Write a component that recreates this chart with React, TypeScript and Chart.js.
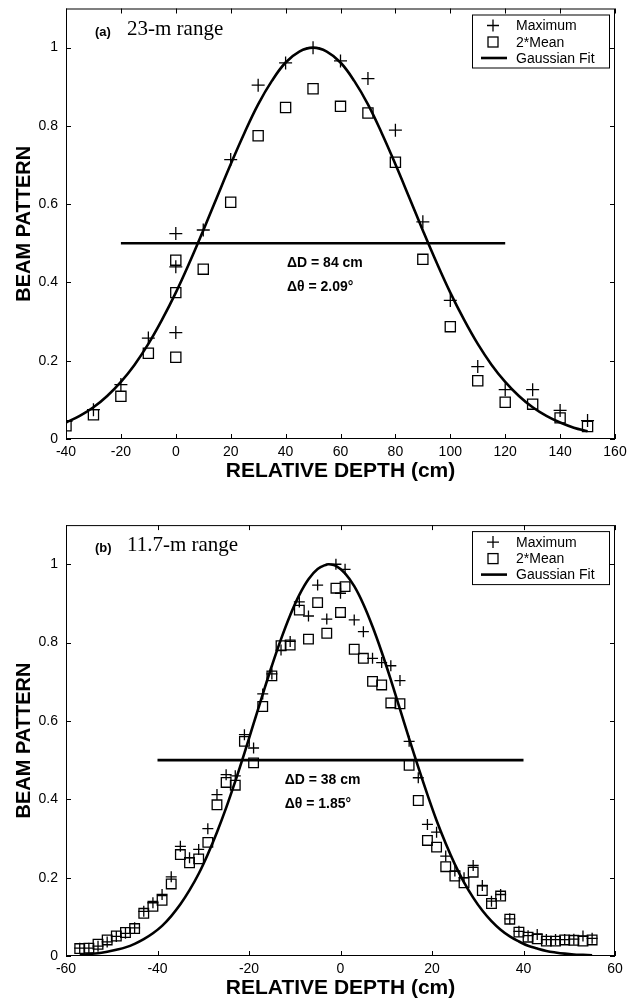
import React, { useEffect, useRef } from "react";
import { Chart, registerables } from "chart.js";

Chart.register(...registerables);

const SANS = "'Liberation Sans', Arial, Helvetica, sans-serif";
const SERIF = "'Liberation Serif', 'Times New Roman', serif";

// ---------- shared ----------
const patternTicks = [0, 0.2, 0.4, 0.6, 0.8, 1];
const seriesLabels = ["Maximum", "2*Mean", "Gaussian Fit"];

// ---------- panel (a): 23-m range ----------
const depthTicksA = [-40, -20, 0, 20, 40, 60, 80, 100, 120, 140, 160];
const maxDepthA = [-40, -30, -20, -10, 0, 0, 0, 10, 20, 30, 40, 50, 60, 70, 80, 90, 100, 110, 120, 130, 140, 150];
const maxValuesA = [0.045, 0.075, 0.139, 0.258, 0.525, 0.44, 0.272, 0.534, 0.714, 0.904, 0.961, 1.0, 0.966, 0.921, 0.789, 0.555, 0.354, 0.185, 0.126, 0.126, 0.073, 0.047];
const meanDepthA = [-40, -30, -20, -10, 0, 0, 0, 10, 20, 30, 40, 50, 60, 70, 80, 90, 100, 110, 120, 130, 140, 150];
const meanValuesA = [0.034, 0.062, 0.109, 0.219, 0.457, 0.374, 0.209, 0.434, 0.605, 0.775, 0.847, 0.895, 0.85, 0.833, 0.707, 0.459, 0.287, 0.149, 0.094, 0.089, 0.054, 0.032];
const fitDepthA = [-40, -35, -30, -25, -20, -15, -10, -5, 0, 5, 10, 15, 20, 25, 30, 35, 40, 45, 50, 55, 60, 65, 70, 75, 80, 85, 90, 95, 100, 105, 110, 115, 120, 125, 130, 135, 140, 145, 150];
const fitValuesA = [0.042, 0.059, 0.081, 0.11, 0.146, 0.19, 0.243, 0.305, 0.374, 0.451, 0.533, 0.618, 0.702, 0.782, 0.855, 0.915, 0.962, 0.99, 1.0, 0.99, 0.962, 0.915, 0.855, 0.782, 0.702, 0.618, 0.533, 0.451, 0.374, 0.305, 0.243, 0.19, 0.146, 0.11, 0.081, 0.059, 0.042, 0.029, 0.02];
const halfDepthA = [-20, 120];
const halfValuesA = [0.5, 0.5];
const notesA = ["\u0394D = 84 cm", "\u0394\u03b8 = 2.09\u00b0"];
const notePosA = { x: 40.5, y: [0.449, 0.389] };

// ---------- panel (b): 11.7-m range ----------
const depthTicksB = [-60, -40, -20, 0, 20, 40, 60];
const maxDepthB = [-57, -55, -53, -51, -49, -47, -45, -43, -41, -39, -37, -35, -33, -31, -29, -27, -25, -23, -21, -19, -17, -15, -13, -11, -9, -7, -5, -3, -1, 0, 1, 3, 5, 7, 9, 11, 13, 15, 17, 19, 21, 23, 25, 27, 29, 31, 33, 35, 37, 39, 41, 43, 45, 47, 49, 51, 53, 55];
const maxValuesB = [0.02, 0.02, 0.025, 0.036, 0.05, 0.058, 0.072, 0.114, 0.136, 0.157, 0.202, 0.28, 0.251, 0.272, 0.325, 0.412, 0.463, 0.46, 0.565, 0.531, 0.669, 0.72, 0.781, 0.803, 0.904, 0.868, 0.947, 0.86, 1.0, 0.926, 0.987, 0.858, 0.828, 0.76, 0.749, 0.741, 0.703, 0.548, 0.455, 0.336, 0.316, 0.255, 0.217, 0.2, 0.231, 0.18, 0.14, 0.157, 0.095, 0.063, 0.052, 0.055, 0.042, 0.042, 0.042, 0.043, 0.051, 0.045];
const meanDepthB = [-57, -55, -53, -51, -49, -47, -45, -43, -41, -39, -37, -35, -33, -31, -29, -27, -25, -23, -21, -19, -17, -15, -13, -11, -9, -7, -5, -3, -1, 0, 1, 3, 5, 7, 9, 11, 13, 15, 17, 19, 21, 23, 25, 27, 29, 31, 33, 35, 37, 39, 41, 43, 45, 47, 49, 51, 53, 55];
const meanValuesB = [0.019, 0.02, 0.03, 0.041, 0.051, 0.06, 0.07, 0.109, 0.127, 0.142, 0.184, 0.259, 0.238, 0.248, 0.29, 0.386, 0.443, 0.436, 0.548, 0.493, 0.637, 0.715, 0.792, 0.794, 0.883, 0.809, 0.902, 0.824, 0.939, 0.877, 0.943, 0.783, 0.76, 0.701, 0.692, 0.646, 0.644, 0.487, 0.397, 0.295, 0.278, 0.228, 0.204, 0.187, 0.214, 0.167, 0.134, 0.153, 0.094, 0.061, 0.048, 0.044, 0.038, 0.038, 0.041, 0.04, 0.038, 0.041];
const fitDepthB = [-57, -55, -53, -51, -49, -47, -45, -43, -41, -39, -37, -35, -33, -31, -29, -27, -25, -23, -21, -19, -17, -15, -13, -11, -9, -7, -5, -3, -2.5, -1, 1, 3, 5, 7, 9, 11, 13, 15, 17, 19, 21, 23, 25, 27, 29, 31, 33, 35, 37, 39, 41, 43, 45, 47, 49, 51, 53, 55];
const fitValuesB = [0.003, 0.005, 0.007, 0.011, 0.016, 0.022, 0.031, 0.043, 0.058, 0.077, 0.102, 0.132, 0.168, 0.21, 0.26, 0.316, 0.378, 0.446, 0.518, 0.593, 0.668, 0.741, 0.809, 0.87, 0.922, 0.962, 0.988, 0.9995, 1.0, 0.996, 0.977, 0.944, 0.898, 0.841, 0.776, 0.705, 0.63, 0.555, 0.482, 0.412, 0.346, 0.287, 0.234, 0.188, 0.149, 0.116, 0.089, 0.067, 0.05, 0.037, 0.026, 0.019, 0.013, 0.009, 0.006, 0.004, 0.003, 0.002];
const halfDepthB = [-40, 40];
const halfValuesB = [0.5, 0.5];
const notesB = ["\u0394D = 38 cm", "\u0394\u03b8 = 1.85\u00b0"];
const notePosB = { x: -12.2, y: [0.448, 0.387] };

type PanelDef = {
  tag: string;
  title: string;
  xMin: number;
  xMax: number;
  xTicks: number[];
  maxD: number[];
  maxV: number[];
  meanD: number[];
  meanV: number[];
  fitD: number[];
  fitV: number[];
  halfD: number[];
  halfV: number[];
  notes: string[];
  notePos: { x: number; y: number[] };
  crossR: number;
  rectR: number;
};

const panelA: PanelDef = {
  tag: "(a)", title: "23-m range", xMin: -40, xMax: 160, xTicks: depthTicksA,
  maxD: maxDepthA, maxV: maxValuesA, meanD: meanDepthA, meanV: meanValuesA,
  fitD: fitDepthA, fitV: fitValuesA, halfD: halfDepthA, halfV: halfValuesA,
  notes: notesA, notePos: notePosA, crossR: 6.5, rectR: 7.2,
};
const panelB: PanelDef = {
  tag: "(b)", title: "11.7-m range", xMin: -60, xMax: 60, xTicks: depthTicksB,
  maxD: maxDepthB, maxV: maxValuesB, meanD: meanDepthB, meanV: meanValuesB,
  fitD: fitDepthB, fitV: fitValuesB, halfD: halfDepthB, halfV: halfValuesB,
  notes: notesB, notePos: notePosB, crossR: 5.5, rectR: 6.8,
};

const zip = (xs: number[], ys: number[]) => xs.map((x, i) => ({ x, y: ys[i] }));

function framePlugin(p: PanelDef) {
  return {
    id: "matlabFrame",
    afterDraw(chart: any) {
      const { ctx, chartArea: a, scales } = chart;
      const xs = scales.x;
      const ys = scales.y;
      ctx.save();
      ctx.strokeStyle = "#000";
      ctx.fillStyle = "#000";
      ctx.lineWidth = 1;
      // box
      ctx.strokeRect(a.left + 0.5, a.top + 0.5, a.right - a.left - 1, a.bottom - a.top - 1);
      // inward ticks
      const tl = 5;
      ctx.beginPath();
      p.xTicks.forEach((v) => {
        const px = Math.round(xs.getPixelForValue(v)) + 0.5;
        ctx.moveTo(px, a.bottom);
        ctx.lineTo(px, a.bottom - tl);
        ctx.moveTo(px, a.top);
        ctx.lineTo(px, a.top + tl);
      });
      patternTicks.forEach((v) => {
        const py = Math.round(ys.getPixelForValue(v)) + 0.5;
        ctx.moveTo(a.left, py);
        ctx.lineTo(a.left + tl, py);
        ctx.moveTo(a.right, py);
        ctx.lineTo(a.right - tl, py);
      });
      ctx.stroke();

      // panel tag and title
      ctx.textBaseline = "alphabetic";
      ctx.textAlign = "left";
      ctx.font = `bold 13px ${SANS}`;
      ctx.fillText(p.tag, a.left + 29, a.top + 27);
      ctx.font = `21px ${SERIF}`;
      ctx.fillText(p.title, a.left + 61, a.top + 26);

      // annotations
      ctx.font = `bold 14px ${SANS}`;
      ctx.textBaseline = "middle";
      p.notes.forEach((t, i) => {
        ctx.fillText(t, xs.getPixelForValue(p.notePos.x), ys.getPixelForValue(p.notePos.y[i]));
      });

      // legend box
      const bx = a.right - 143;
      const by = a.top + 6;
      const bw = 137;
      const bh = 53;
      ctx.fillStyle = "#fff";
      ctx.fillRect(bx, by, bw, bh);
      ctx.strokeRect(bx + 0.5, by + 0.5, bw, bh);
      ctx.fillStyle = "#000";
      const rows = [by + 11, by + 27.5, by + 43.5];
      const sx = bx + 21;
      ctx.lineWidth = 1.3;
      // plus
      ctx.beginPath();
      ctx.moveTo(sx - 6, rows[0]);
      ctx.lineTo(sx + 6, rows[0]);
      ctx.moveTo(sx, rows[0] - 6);
      ctx.lineTo(sx, rows[0] + 6);
      ctx.stroke();
      // square
      ctx.strokeRect(sx - 5, rows[1] - 5, 10, 10);
      // line
      ctx.lineWidth = 2.6;
      ctx.beginPath();
      ctx.moveTo(bx + 9, rows[2]);
      ctx.lineTo(bx + 35, rows[2]);
      ctx.stroke();
      ctx.font = `14px ${SANS}`;
      ctx.textBaseline = "middle";
      seriesLabels.forEach((t, i) => ctx.fillText(t, bx + 44, rows[i] + 1));
      ctx.restore();
    },
  };
}

function buildConfig(p: PanelDef): any {
  const tickFont = { family: SANS, size: 14 };
  return {
    type: "scatter",
    data: {
      datasets: [
        {
          label: seriesLabels[0],
          data: zip(p.maxD, p.maxV),
          pointStyle: "cross",
          pointRadius: p.crossR,
          borderColor: "#000",
          backgroundColor: "#000",
          borderWidth: 1.3,
          showLine: false,
        },
        {
          label: seriesLabels[1],
          data: zip(p.meanD, p.meanV),
          pointStyle: "rect",
          pointRadius: p.rectR,
          borderColor: "#000",
          backgroundColor: "rgba(0,0,0,0)",
          borderWidth: 1.3,
          showLine: false,
        },
        {
          label: seriesLabels[2],
          data: zip(p.fitD, p.fitV),
          showLine: true,
          borderColor: "#000",
          backgroundColor: "#000",
          borderWidth: 2.6,
          pointRadius: 0,
          tension: 0.4,
          fill: false,
        },
        {
          label: "Half power",
          data: zip(p.halfD, p.halfV),
          showLine: true,
          borderColor: "#000",
          backgroundColor: "#000",
          borderWidth: 2.6,
          pointRadius: 0,
          fill: false,
        },
      ],
    },
    options: {
      animation: false,
      responsive: false,
      devicePixelRatio: 1,
      layout: { padding: { top: 8, right: 21, left: 0, bottom: 0 } },
      plugins: { legend: { display: false }, tooltip: { enabled: false } },
      scales: {
        x: {
          type: "linear",
          min: p.xMin,
          max: p.xMax,
          afterBuildTicks: (s: any) => {
            s.ticks = p.xTicks.map((v) => ({ value: v }));
          },
          afterFit: (s: any) => {
            s.height = 51;
          },
          grid: { display: false, drawTicks: false },
          border: { display: false },
          ticks: {
            color: "#000",
            font: tickFont,
            padding: 5,
            maxRotation: 0,
            autoSkip: false,
            callback: (v: any) => String(v),
          },
          title: {
            display: true,
            text: "RELATIVE DEPTH (cm)",
            color: "#000",
            font: { family: SANS, size: 21, weight: "bold" },
            padding: { top: 0, bottom: 6 },
          },
        },
        y: {
          type: "linear",
          min: 0,
          max: 1.1,
          afterBuildTicks: (s: any) => {
            s.ticks = patternTicks.map((v) => ({ value: v }));
          },
          afterFit: (s: any) => {
            s.width = 66;
            s.paddingTop = 0;
            s.paddingBottom = 0;
          },
          grid: { display: false, drawTicks: false },
          border: { display: false },
          ticks: {
            color: "#000",
            font: tickFont,
            padding: 8,
            autoSkip: false,
            callback: (v: any) => String(Math.round(Number(v) * 10) / 10),
          },
          title: {
            display: true,
            text: "BEAM PATTERN",
            color: "#000",
            font: { family: SANS, size: 20, weight: "bold" },
            padding: { top: 12, bottom: 0 },
          },
        },
      },
    },
    plugins: [framePlugin(p)],
  };
}

function PanelChart({ panel, top }: { panel: PanelDef; top: number }) {
  const ref = useRef<HTMLCanvasElement | null>(null);
  useEffect(() => {
    if (!ref.current) return;
    const chart = new Chart(ref.current, buildConfig(panel));
    return () => chart.destroy();
  }, [panel]);
  return (
    <canvas
      ref={ref}
      width={636}
      height={490}
      style={{ position: "absolute", left: 0, top, width: 636, height: 490, display: "block" }}
    />
  );
}

export default function App() {
  return (
    <div
      style={{
        position: "absolute",
        left: 0,
        top: 0,
        width: 636,
        height: 1002,
        overflow: "hidden",
        background: "#fff",
      }}
    >
      <PanelChart panel={panelA} top={0} />
      <PanelChart panel={panelB} top={517} />
    </div>
  );
}
